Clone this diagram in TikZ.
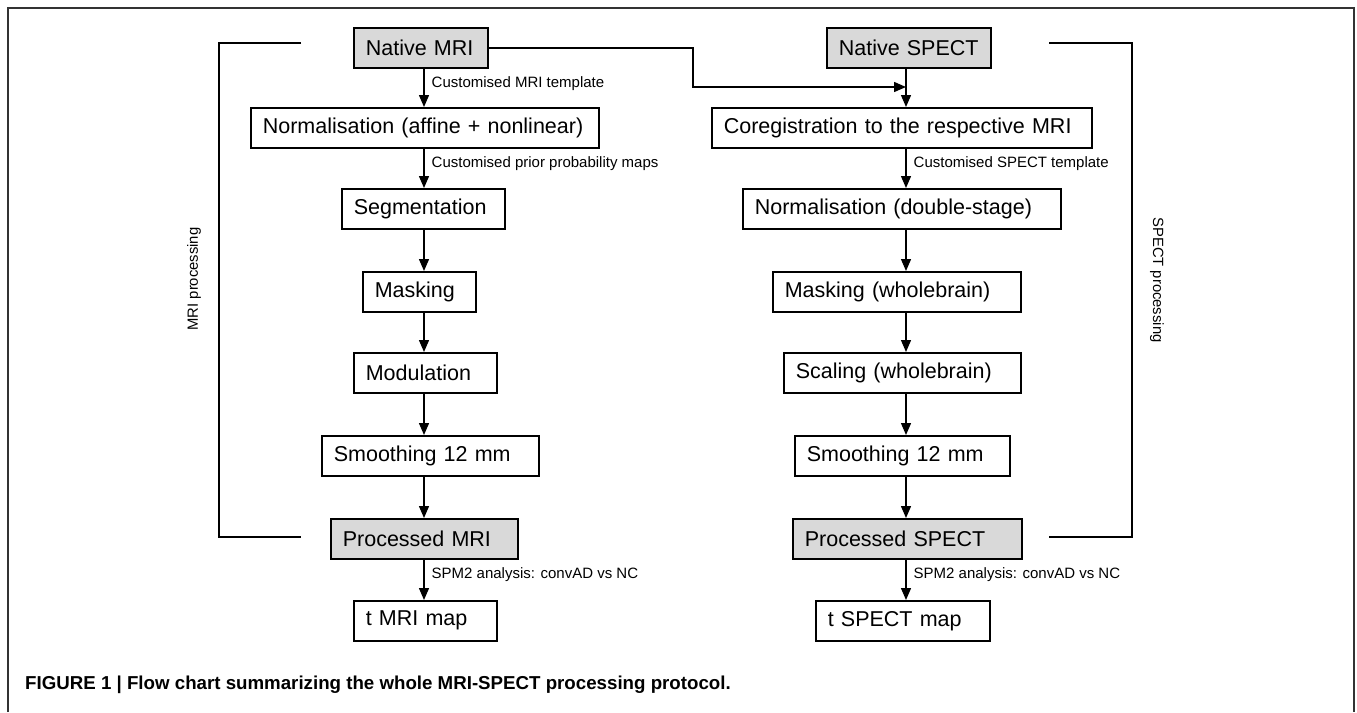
\documentclass[tikz,border=0pt]{standalone}
\usepackage{fontspec}
\setmainfont{Liberation Sans}
\usetikzlibrary{arrows.meta}
\definecolor{boxgray}{HTML}{D9D9D9}
\definecolor{framegray}{HTML}{333333}
\tikzset{
  box/.style={draw=black, line width=1.6pt, inner xsep=12pt, inner ysep=0pt,
    minimum height=40pt, anchor=north west, align=left,
    font=\fontsize{21.5}{25}\selectfont},
  graybox/.style={box, fill=boxgray},
  arr/.style={line width=1.4pt, -{Triangle[length=12pt,width=10pt]}},
  bracket/.style={line width=1.6pt},
  lbl/.style={anchor=west, inner sep=0pt, xshift=7pt, font=\fontsize{15}{18}\selectfont},
  side/.style={inner sep=0pt, font=\fontsize{14.8}{18}\selectfont},
}
\begin{document}
\begin{tikzpicture}[x=1pt,y=-1pt]
\useasboundingbox (0,0) rectangle (1357,712);
% frame
\draw[framegray, line width=2pt] (8,712) -- (8,8) -- (1354,8) -- (1354,712);
% column axes
\coordinate (L) at (424,0);
\coordinate (R) at (906,0);
% left column
\node[graybox, text width=110pt] (nmri) at (353,27) {Native MRI};
\node[box, text width=324pt] (norm) at (250,107) {Normalisation (affine + nonlinear)};
\node[box, text width=139pt] (seg) at (341,188) {Segmentation};
\node[box, text width=89pt] (mask) at (362,271) {Masking};
\node[box, text width=119pt] (mod) at (353,352) {Modulation};
\node[box, text width=193pt] (smo) at (321,435) {Smoothing 12 mm};
\node[graybox, text width=163pt] (pmri) at (330,518) {Processed MRI};
\node[box, text width=119pt] (tmri) at (353,600) {t MRI map};
% right column
\node[graybox, text width=140pt] (nspect) at (826,27) {Native SPECT};
\node[box, text width=356pt] (coreg) at (711,107) {Coregistration to the respective MRI};
\node[box, text width=294pt] (norm2) at (742,188) {Normalisation (double-stage)};
\node[box, text width=224pt] (mask2) at (772,271) {Masking (wholebrain)};
\node[box, text width=213pt] (scal) at (783,352) {Scaling (wholebrain)};
\node[box, text width=191pt] (smo2) at (794,435) {Smoothing 12 mm};
\node[graybox, text width=205pt] (pspect) at (792,518) {Processed SPECT};
\node[box, text width=150pt] (tspect) at (815,600) {t SPECT map};
% left arrows
\draw[arr] (nmri.south -| L) -- node[lbl, pos=0.38] {Customised MRI template} (norm.north -| L);
\draw[arr] (norm.south -| L) -- node[lbl, pos=0.39] {Customised prior probability maps} (seg.north -| L);
\draw[arr] (seg.south -| L) -- (mask.north -| L);
\draw[arr] (mask.south -| L) -- (mod.north -| L);
\draw[arr] (mod.south -| L) -- (smo.north -| L);
\draw[arr] (smo.south -| L) -- (pmri.north -| L);
\draw[arr] (pmri.south -| L) -- node[lbl, pos=0.38] {SPM2 analysis: convAD vs NC} (tmri.north -| L);
% right arrows
\draw[arr] (nspect.south -| R) -- (coreg.north -| R);
\draw[arr] (coreg.south -| R) -- node[lbl, pos=0.39] {Customised SPECT template} (norm2.north -| R);
\draw[arr] (norm2.south -| R) -- (mask2.north -| R);
\draw[arr] (mask2.south -| R) -- (scal.north -| R);
\draw[arr] (scal.south -| R) -- (smo2.north -| R);
\draw[arr] (smo2.south -| R) -- (pspect.north -| R);
\draw[arr] (pspect.south -| R) -- node[lbl, pos=0.38] {SPM2 analysis: convAD vs NC} (tspect.north -| R);
% MRI to SPECT connector
\coordinate (j1) at (693,87);
\draw[arr] (nmri.east) -| (j1) -- (j1 -| R);
% brackets
\coordinate (lb1) at (301,43);
\coordinate (lb2) at (219,43);
\coordinate (lb3) at (219,537);
\coordinate (lb4) at (301,537);
\draw[bracket] (lb1) -- (lb2) -- (lb3) -- (lb4);
\coordinate (rb1) at (1049,43);
\coordinate (rb2) at (1132,43);
\coordinate (rb3) at (1132,537);
\coordinate (rb4) at (1049,537);
\draw[bracket] (rb1) -- (rb2) -- (rb3) -- (rb4);
\node[side, rotate=90] (mrip) at (194,279) {MRI processing};
\node[side, rotate=-90] (spectp) at (1157,280) {SPECT processing};
% caption
\node[anchor=west, inner sep=0pt, font=\bfseries\fontsize{18.7}{22}\selectfont] (cap) at (25,685)
  {FIGURE 1 | Flow chart summarizing the whole MRI-SPECT processing protocol.};
\end{tikzpicture}
\end{document}
